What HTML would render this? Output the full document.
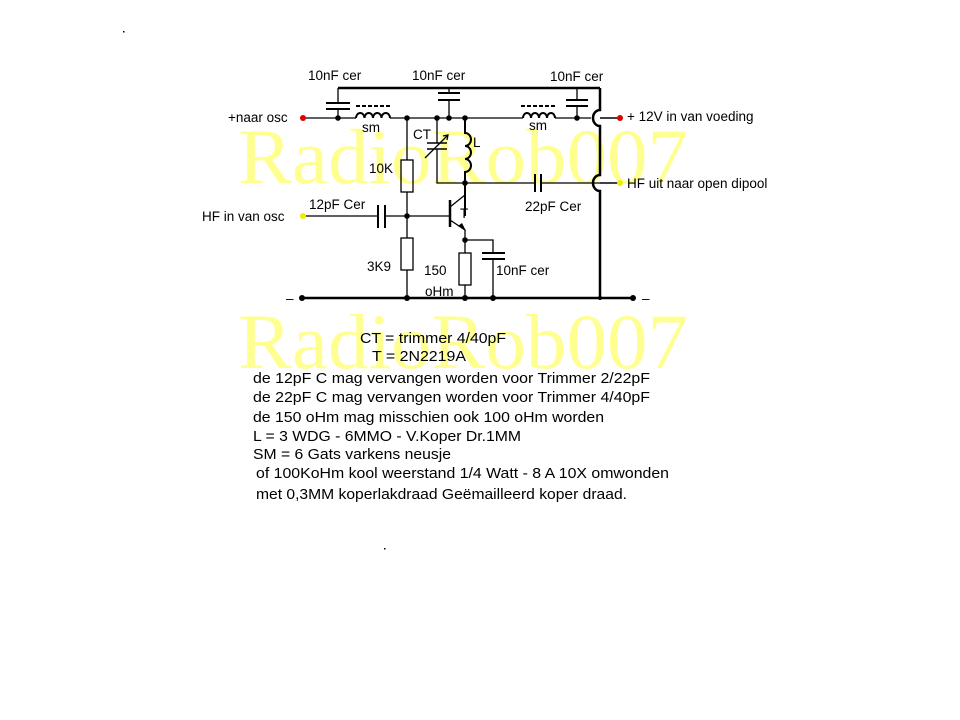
<!DOCTYPE html>
<html><head><meta charset="utf-8"><style>
html,body{margin:0;padding:0;background:#fff;}
svg{display:block;}
text{font-family:"Liberation Sans",Arial,sans-serif;font-size:13.5px;fill:#000;}
.b{font-size:14.5px;}
.wm{font-family:"Liberation Serif",serif;font-size:78px;fill:#ffff90;}
</style></head><body>
<svg width="960" height="720" viewBox="0 0 960 720" xmlns="http://www.w3.org/2000/svg">
<text class="wm" x="238" y="183" textLength="450" lengthAdjust="spacingAndGlyphs">RadioRob007</text>
<text class="wm" x="238" y="368" textLength="450" lengthAdjust="spacingAndGlyphs">RadioRob007</text>
<rect x="123" y="31" width="1.5" height="1.5" fill="#000"/>
<rect x="384" y="548" width="1.5" height="1.5" fill="#000"/>
<g stroke="#000" fill="none" stroke-width="1.3">
<path d="M338 88 H600" stroke-width="2.5"/>
<path d="M338 88 V103 M338 109 V118" />
<path d="M326 103 H350 M326 109 H350" stroke-width="2"/>
<path d="M449 88 V93 M449 100 V118"/>
<path d="M438 93 H460 M438 100 H460" stroke-width="2"/>
<path d="M577 88 V100 M577 106 V118"/>
<path d="M566 100 H588 M566 106 H588" stroke-width="2"/>
<path d="M303 118 H356 M390 118 H523 M555 118 H591"/>
<path d="M356 118 a4.25 5 0 0 1 8.5 0 a4.25 5 0 0 1 8.5 0 a4.25 5 0 0 1 8.5 0 a4.25 5 0 0 1 8.5 0" stroke-width="2"/>
<path d="M523 118 a4 5 0 0 1 8 0 a4 5 0 0 1 8 0 a4 5 0 0 1 8 0 a4 5 0 0 1 8 0" stroke-width="2"/>
<path d="M356 106 H392 M521 106 H557" stroke-width="2" stroke-dasharray="4 2"/>
<path d="M600 88 V110 a7 8 0 0 0 0 16 V175 a7 8 0 0 0 0 16 V298" stroke-width="2.5"/>
<path d="M600 118 H620 M600 183 H620" stroke-width="1.5"/>
<path d="M407 118 V160 M407 192 V238 M407 270 V298"/>
<rect x="401" y="160" width="12" height="32"/>
<rect x="401" y="238" width="12" height="32"/>
<path d="M437 118 V143 M437 149 V183 H535 M541 183 H600"/>
<path d="M427 143 H447 M427 149 H447" stroke-width="1.5"/>
<path d="M425 158 L448 135 M443 136 L448 135 L447 140"/>
<path d="M535 174 V192 M541 174 V192" stroke-width="2"/>
<path d="M465 118 V133 a6 6.5 0 0 1 0 13 a6 6.5 0 0 1 0 13 a6 6.5 0 0 1 0 13 V216" stroke-width="2"/>
<path d="M465 195 L450 207"/>
<path d="M450 200 V227" stroke-width="2.5"/>
<path d="M407 216 H450"/>
<path d="M303 216 H378 M385 216 H407"/>
<path d="M378 205 V228 M385 205 V228" stroke-width="2"/>
<path d="M450 220 L465 230 V253 M465 285 V298"/>
<rect x="459" y="253" width="12" height="32"/>
<path d="M465 240 H493 V253 M493 259 V298"/>
<path d="M482 253 H505 M482 259 H505" stroke-width="2"/>
<path d="M302 298 H633" stroke-width="2.5"/>
</g>
<polygon points="466,231 458,226 462,223" fill="#000"/>
<g fill="#000">
<circle cx="338" cy="118" r="2.8"/><circle cx="407" cy="118" r="2.8"/><circle cx="437" cy="118" r="2.8"/>
<circle cx="449" cy="118" r="2.8"/><circle cx="465" cy="118" r="2.8"/><circle cx="577" cy="118" r="2.8"/>
<circle cx="465" cy="183" r="2.8"/><circle cx="407" cy="216" r="2.8"/><circle cx="465" cy="240" r="2.8"/>
<circle cx="302" cy="298" r="3"/><circle cx="407" cy="298" r="3"/><circle cx="465" cy="298" r="3"/>
<circle cx="493" cy="298" r="3"/><circle cx="600" cy="298" r="2"/><circle cx="633" cy="298" r="3"/>
</g>
<circle cx="303" cy="118" r="3" fill="#e00000"/>
<circle cx="620" cy="118" r="3" fill="#e00000"/>
<circle cx="303" cy="216" r="3" fill="#eeee00"/>
<circle cx="620" cy="183" r="3" fill="#eeee00"/>
<text x="308" y="80">10nF cer</text>
<text x="412" y="80">10nF cer</text>
<text x="550" y="81">10nF cer</text>
<text x="228" y="122">+naar osc</text>
<text x="362" y="132">sm</text>
<text x="529" y="130">sm</text>
<text x="413" y="139">CT</text>
<text x="473" y="147">L</text>
<text x="369" y="173">10K</text>
<text x="627" y="121">+ 12V in van voeding</text>
<text x="627" y="188">HF uit naar open dipool</text>
<text x="202" y="221">HF in van osc</text>
<text x="309" y="209">12pF Cer</text>
<text x="460" y="218">T</text>
<text x="525" y="211">22pF Cer</text>
<text x="367" y="271">3K9</text>
<text x="424" y="275">150</text>
<text x="425" y="296">oHm</text>
<text x="496" y="275">10nF cer</text>
<text x="286" y="303">–</text>
<text x="642" y="303">–</text>
<g lengthAdjust="spacingAndGlyphs">
<text class="b" x="360" y="343" textLength="146" lengthAdjust="spacingAndGlyphs">CT = trimmer 4/40pF</text>
<text class="b" x="372" y="361" textLength="94" lengthAdjust="spacingAndGlyphs">T = 2N2219A</text>
<text class="b" x="253" y="383" textLength="397" lengthAdjust="spacingAndGlyphs">de 12pF C mag vervangen worden voor Trimmer 2/22pF</text>
<text class="b" x="253" y="402" textLength="397" lengthAdjust="spacingAndGlyphs">de 22pF C mag vervangen worden voor Trimmer 4/40pF</text>
<text class="b" x="253" y="422" textLength="351" lengthAdjust="spacingAndGlyphs">de 150 oHm mag misschien ook 100 oHm worden</text>
<text class="b" x="253" y="441" textLength="268" lengthAdjust="spacingAndGlyphs">L = 3 WDG - 6MMO - V.Koper Dr.1MM</text>
<text class="b" x="253" y="459" textLength="198" lengthAdjust="spacingAndGlyphs">SM = 6 Gats varkens neusje</text>
<text class="b" x="256" y="478" textLength="413" lengthAdjust="spacingAndGlyphs">of 100KoHm kool weerstand 1/4 Watt - 8 A 10X omwonden</text>
<text class="b" x="256" y="499" textLength="371" lengthAdjust="spacingAndGlyphs">met 0,3MM koperlakdraad Geëmailleerd koper draad.</text>
</g>
</svg>
</body></html>
